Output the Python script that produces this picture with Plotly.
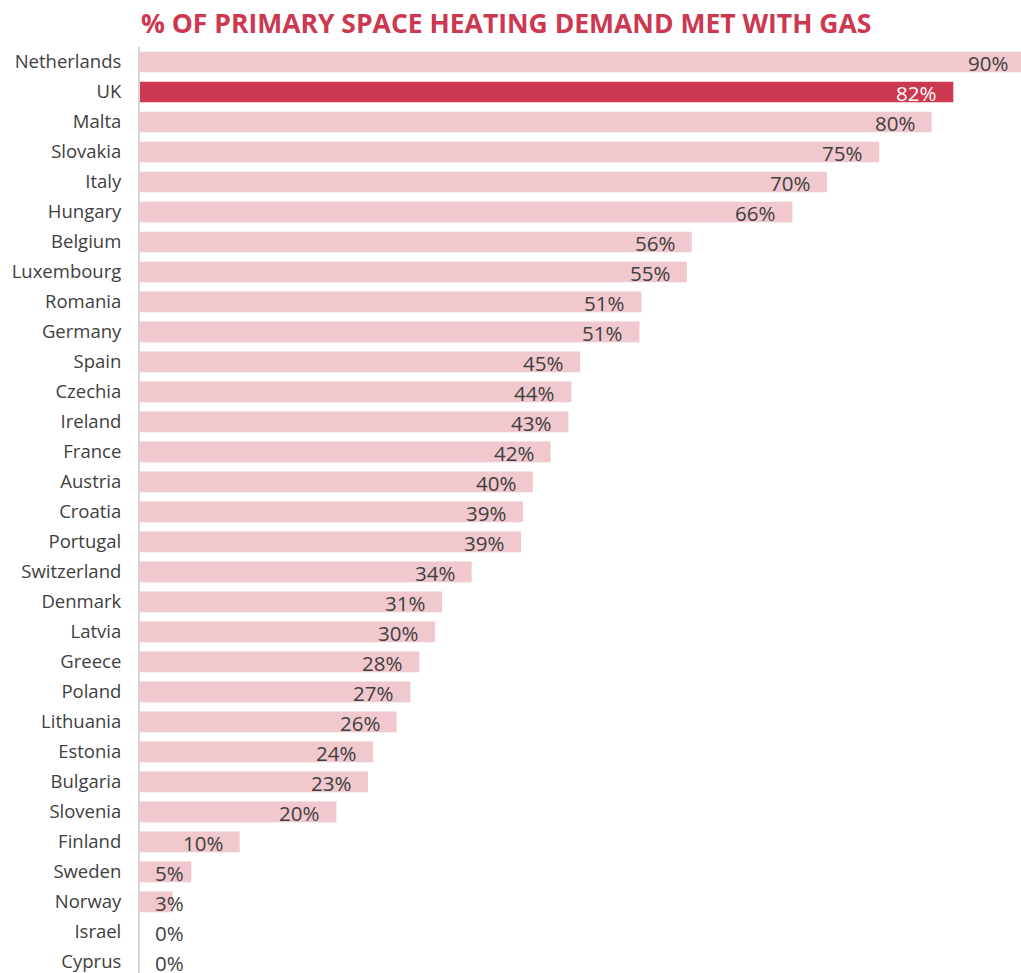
import plotly.graph_objects as go

# Share of primary space heating demand met with gas, by country (%)
countries = [
    "Netherlands", "UK", "Malta", "Slovakia", "Italy", "Hungary", "Belgium",
    "Luxembourg", "Romania", "Germany", "Spain", "Czechia", "Ireland", "France",
    "Austria", "Croatia", "Portugal", "Switzerland", "Denmark", "Latvia",
    "Greece", "Poland", "Lithuania", "Estonia", "Bulgaria", "Slovenia",
    "Finland", "Sweden", "Norway", "Israel", "Cyprus",
]
gas_share = [
    89.7, 82.4, 80.2, 74.9, 69.6, 66.1, 55.9,
    55.4, 50.8, 50.6, 44.6, 43.7, 43.4, 41.6,
    39.8, 38.8, 38.6, 33.6, 30.6, 29.9,
    28.3, 27.4, 26.0, 23.6, 23.1, 19.9,
    10.1, 5.2, 3.3, 0.0, 0.0,
]
highlight = "UK"

TITLE = "% OF PRIMARY SPACE HEATING DEMAND MET WITH GAS"
RED = "#cd3851"
PINK = "#f0c8ce"
TEXT = "#404040"
FONT = "Open Sans"
MIN_INSIDE = 8      # below this the value label sits just right of the axis
PLOT_W = 881        # plot-area width in px
PX_PER_UNIT = 9.87  # horizontal scale
X_MAX = PLOT_W / PX_PER_UNIT

bar_colors = [RED if c == highlight else PINK for c in countries]

fig = go.Figure(
    go.Bar(
        x=gas_share,
        y=countries,
        orientation="h",
        marker=dict(color=bar_colors, line=dict(width=0)),
        hoverinfo="skip",
    )
)

annotations = []
for c, v in zip(countries, gas_share):
    label = f"{v:.0f}%"
    if v >= MIN_INSIDE:
        # bars running past the visible range keep their label at the true end
        anchor_x = min(v, X_MAX * 0.999)
        overflow = (v - anchor_x) * PX_PER_UNIT
        annotations.append(dict(
            x=anchor_x, y=c, xref="x", yref="y", text=label, showarrow=False,
            xanchor="right", xshift=-15 + overflow, yshift=-1,
            font=dict(family=FONT, size=20.5,
                      color="white" if c == highlight else TEXT),
        ))
    else:
        annotations.append(dict(
            x=0, y=c, xref="x", yref="y", text=label, showarrow=False,
            xanchor="left", xshift=13, yshift=-1,
            font=dict(family=FONT, size=20.5, color=TEXT),
        ))

fig.update_layout(
    width=1021,
    height=973,
    margin=dict(l=140, r=0, t=47, b=0),
    paper_bgcolor="white",
    plot_bgcolor="white",
    bargap=0.31,
    showlegend=False,
    title=dict(
        text=f"<b>{TITLE}</b>",
        x=141 / 1021, xanchor="left", xref="container",
        y=1 - 24 / 973, yanchor="middle", yref="container",
        font=dict(family=FONT, size=26.5, color=RED),
    ),
    xaxis=dict(
        range=[0, X_MAX],
        showgrid=False, zeroline=False, showticklabels=False,
        showline=False, ticks="",
    ),
    yaxis=dict(
        categoryorder="array", categoryarray=countries,
        range=[30.37, -0.5],
        showgrid=False, zeroline=False,
        showline=True, linecolor="#d6d6d6", linewidth=2,
        ticks="", ticklabelstandoff=13,
        tickfont=dict(family=FONT, size=18.5, color=TEXT),
    ),
    annotations=annotations,
)

fig.write_html("out.html")
